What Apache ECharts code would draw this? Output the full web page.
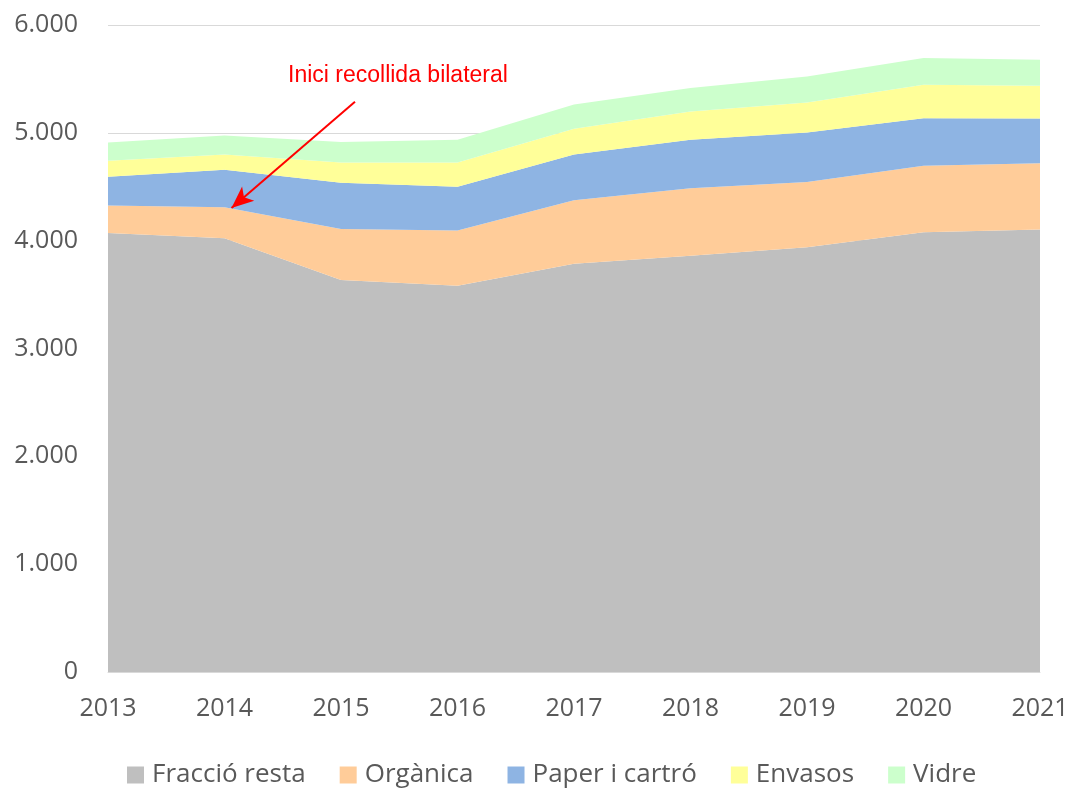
<!DOCTYPE html>
<html>
<head>
<meta charset="utf-8">
<script src="https://cdn.jsdelivr.net/npm/echarts@6/dist/echarts.min.js"></script>
<style>
  html, body { margin: 0; padding: 0; background: #fff; }
  #chart { width: 1072px; height: 789px; }
</style>
</head>
<body>
<div id="chart"></div>
<script>
const years = ['2013', '2014', '2015', '2016', '2017', '2018', '2019', '2020', '2021'];
const seriesNames = ['Fracció resta', 'Orgànica', 'Paper i cartró', 'Envasos', 'Vidre'];
const resta = [4070, 4023, 3636, 3581, 3785, 3859, 3940, 4079, 4103];
const organica = [256, 288, 473, 513, 589, 628, 603, 615, 616];
const paper = [266, 346, 427, 405, 425, 448, 460, 442, 414];
const envasos = [148, 142, 189, 226, 238, 263, 278, 309, 303];
const vidre = [170, 176, 189, 210, 225, 217, 241, 248, 241];
const colors = ['#BFBFBF', '#FFCC99', '#8EB4E3', '#FFFF99', '#CCFFCC'];
const annotText = 'Inici recollida bilateral';
// arrow in (year, value) terms, drawn on a hidden numeric x axis
const arrowFrom = [2015.12, 5288];
const arrowTo = [2014.06, 4304];

const font = '"Open Sans", "Noto Sans", sans-serif';
const allData = [resta, organica, paper, envasos, vidre];

const chart = echarts.init(document.getElementById('chart'));

const series = allData.map((vals, i) => ({
  name: seriesNames[i],
  type: 'line',
  stack: 'total',
  data: vals,
  showSymbol: false,
  symbol: 'none',
  lineStyle: { width: 0 },
  areaStyle: { color: colors[i], opacity: 1 },
  itemStyle: { color: colors[i] },
  emphasis: { disabled: true },
}));

// arrow of the annotation
series.push({
  type: 'line',
  xAxisIndex: 1,
  data: [],
  silent: true,
  markLine: {
    silent: true,
    symbol: ['none', 'arrow'],
    symbolSize: [14, 22],
    label: { show: false },
    lineStyle: { color: '#FF0000', width: 2, type: 'solid' },
    data: [[{ coord: arrowFrom }, { coord: arrowTo }]],
  },
});

chart.setOption({
  animation: false,
  title: {
    text: annotText,
    left: 283,
    top: 59,
    textStyle: {
      color: '#FF0000',
      fontSize: 23,
      fontWeight: 'normal',
      fontFamily: '"Liberation Sans", Arial, sans-serif',
    },
  },
  grid: { left: 108, right: 32, top: 25, bottom: 117, containLabel: false },
  legend: {
    data: seriesNames,
    bottom: -4,
    left: 122,
    itemWidth: 17,
    itemHeight: 17,
    itemGap: 34,
    icon: 'rect',
    textStyle: { color: '#595959', fontSize: 26, fontFamily: font, padding: [0, 0, 0, 3] },
  },
  xAxis: [
    {
      type: 'category',
      data: years,
      boundaryGap: false,
      axisLine: { show: true, lineStyle: { color: '#D9D9D9' } },
      axisTick: { show: false },
      splitLine: { show: false },
      axisLabel: { color: '#595959', fontSize: 25, fontFamily: font, margin: 24 },
    },
    {
      type: 'value',
      min: 2013,
      max: 2021,
      show: false,
    },
  ],
  yAxis: {
    type: 'value',
    min: 0,
    max: 6000,
    interval: 1000,
    axisLine: { show: false },
    axisTick: { show: false },
    splitLine: { show: true, lineStyle: { color: '#D9D9D9', width: 1 } },
    axisLabel: {
      color: '#595959',
      fontSize: 25,
      fontFamily: font,
      margin: 30,
      formatter: (v) => v.toLocaleString('de-DE'),
    },
  },
  series: series,
});
</script>
</body>
</html>
